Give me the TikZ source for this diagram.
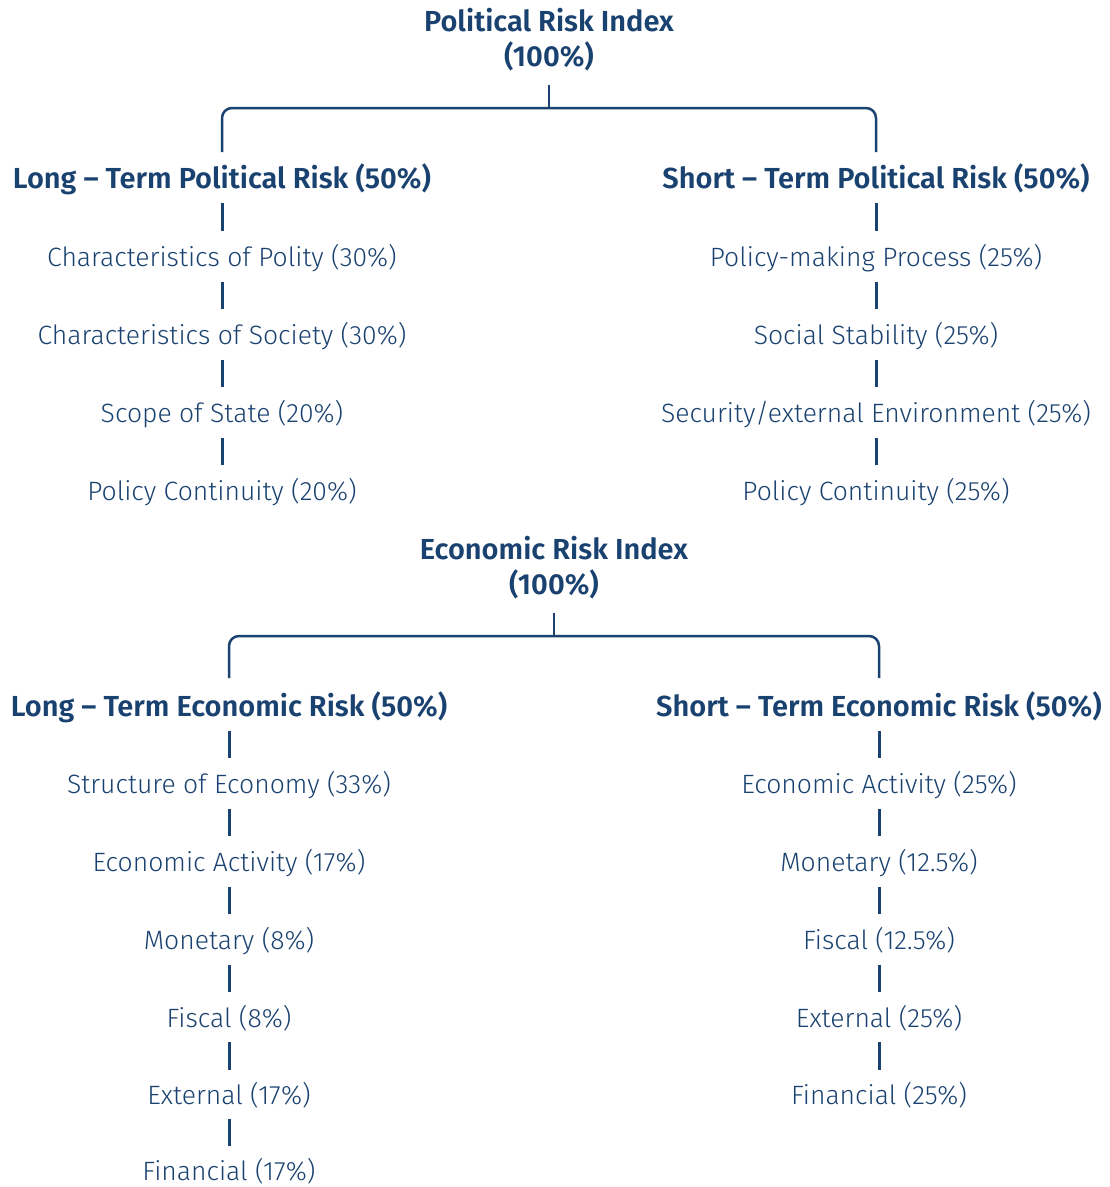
\documentclass[tikz,border=0pt]{standalone}
\usepackage{fontspec}
\IfFontExistsTF{Fira Sans Light}{\newfontfamily\itemfont{Fira Sans Light}}{\newfontfamily\itemfont{Fira Sans}}
\IfFontExistsTF{Fira Sans SemiBold}{\newfontfamily\headfont{Fira Sans SemiBold}}{\newfontfamily\headfont{Fira Sans}[FakeBold=1.5]}
\definecolor{navy}{RGB}{26,66,112}
\begin{document}
\begin{tikzpicture}[x=1pt,y=-1pt,
  every node/.style={text=navy,inner sep=0pt,anchor=center},
  head/.style={font=\headfont\fontsize{29}{35}\selectfont,align=center},
  hh/.style={head,text height=23pt,text depth=3pt},
  item/.style={font=\itemfont\fontsize{26.5}{30}\selectfont,text height=22pt,text depth=3pt},
  sep/.style={draw=navy,line width=3pt,shorten <=25pt,shorten >=26pt},
  brk/.style={draw=navy,line width=2.5pt,rounded corners=10pt}]
\useasboundingbox (0,0) rectangle (1110,1187);
% ---------- Political
\node[head] (pri) at (549,40) {Political Risk Index\\(100\%)};
\coordinate (pb) at (549,108);
\node[hh] (plt) at (222,178) {Long – Term Political Risk (50\%)};
\node[hh] (pst) at (876,178) {Short – Term Political Risk (50\%)};
\draw[brk] ([yshift=-13pt]pri.south) -- (pb);
\draw[brk] ([yshift=26pt]plt.center) |- (pb) -| ([yshift=26pt]pst.center);

\node[item] (pl1) at (222,257) {Characteristics of Polity (30\%)};
\node[item] (pl2) at (222,335) {Characteristics of Society (30\%)};
\node[item] (pl3) at (222,413) {Scope of State (20\%)};
\node[item] (pl4) at (222,491) {Policy Continuity (20\%)};
\node[item] (ps1) at (876,257) {Policy-making Process (25\%)};
\node[item] (ps2) at (876,335) {Social Stability (25\%)};
\node[item] (ps3) at (876,413) {Security/external Environment (25\%)};
\node[item] (ps4) at (876,491) {Policy Continuity (25\%)};
\foreach \a/\b in {plt/pl1,pl1/pl2,pl2/pl3,pl3/pl4,pst/ps1,ps1/ps2,ps2/ps3,ps3/ps4}
  \draw[sep] (\a.center) -- (\b.center);

% ---------- Economic
\node[head] (eri) at (554,568) {Economic Risk Index\\(100\%)};
\coordinate (eb) at (554,636);
\node[hh] (elt) at (229,706) {Long – Term Economic Risk (50\%)};
\node[hh] (est) at (879,706) {Short – Term Economic Risk (50\%)};
\draw[brk] ([yshift=-13pt]eri.south) -- (eb);
\draw[brk] ([yshift=28pt]elt.center) |- (eb) -| ([yshift=28pt]est.center);

\node[item] (el1) at (229,784) {Structure of Economy (33\%)};
\node[item] (el2) at (229,862) {Economic Activity (17\%)};
\node[item] (el3) at (229,940) {Monetary (8\%)};
\node[item] (el4) at (229,1018) {Fiscal (8\%)};
\node[item] (el5) at (229,1095) {External (17\%)};
\node[item] (el6) at (229,1171) {Financial (17\%)};
\node[item] (es1) at (879,784) {Economic Activity (25\%)};
\node[item] (es2) at (879,862) {Monetary (12.5\%)};
\node[item] (es3) at (879,940) {Fiscal (12.5\%)};
\node[item] (es4) at (879,1018) {External (25\%)};
\node[item] (es5) at (879,1095) {Financial (25\%)};
\foreach \a/\b in {elt/el1,el1/el2,el2/el3,el3/el4,est/es1,es1/es2,es2/es3,es3/es4}
  \draw[sep] (\a.center) -- (\b.center);
\foreach \a/\b in {el4/el5,el5/el6,es4/es5}
  \draw[sep,shorten <=24pt,shorten >=25pt] (\a.center) -- (\b.center);
\end{tikzpicture}
\end{document}
